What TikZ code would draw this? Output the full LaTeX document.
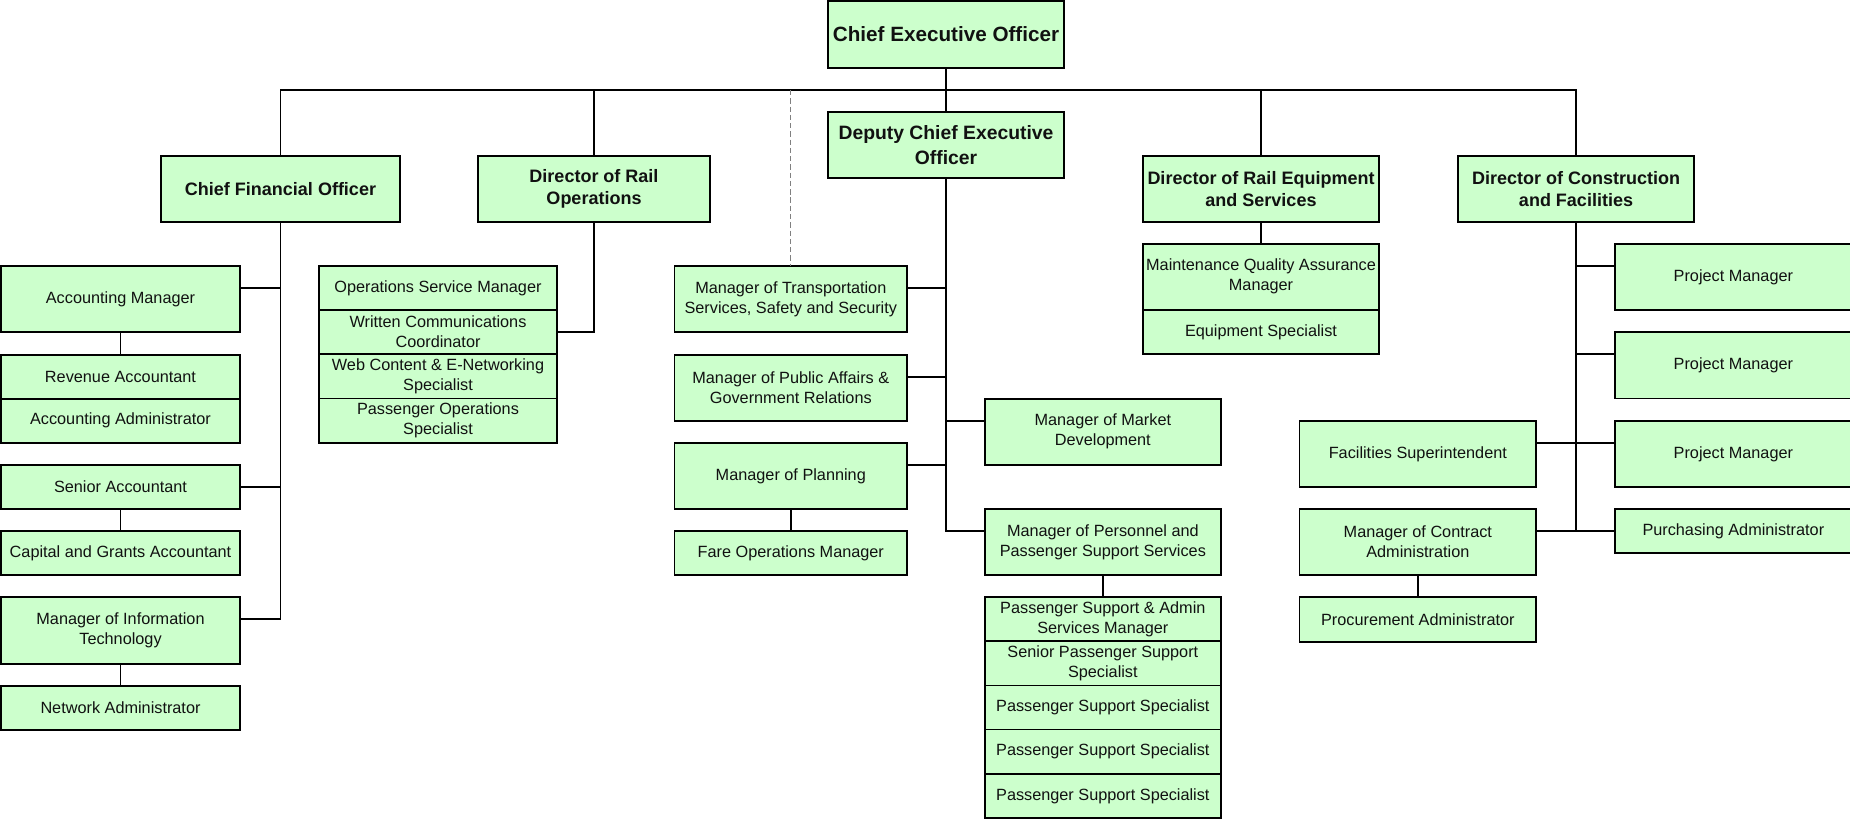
\documentclass[tikz,border=0pt]{standalone}
\usepackage{fontspec}
\setmainfont{Liberation Sans}
\usepackage{tikz}
\definecolor{boxgreen}{HTML}{CCFFCC}
\definecolor{txt}{HTML}{111111}

\begin{document}
\begin{tikzpicture}[x=0.75pt,y=-0.75pt,
	box/.style={draw,line width=1.3pt,fill=boxgreen,text=txt,inner sep=0pt,outer sep=0pt,align=center,font=\fontsize{12.2}{15}\selectfont},
	head/.style={box,font=\bfseries\fontsize{13.5}{16.5}\selectfont},
	wh/.style 2 args={minimum width=#1*0.75pt,minimum height=#2*0.75pt},
	link/.style={line width=1.3pt}]
\useasboundingbox (0,0) rectangle (1850,819);

%heads
\node[head,wh={236}{67},font=\bfseries\fontsize{15.5}{18}\selectfont] (ceo) at (946,34.5) {Chief Executive Officer};
\node[head,wh={236}{66},font=\bfseries\fontsize{14.5}{18.75}\selectfont] (dceo) at (946,145) {Deputy Chief Executive\\Officer};
\node[head,wh={239}{66}] (cfo) at (280.5,189) {Chief Financial Officer};
\node[head,wh={232}{66}] (dro) at (594,189) {Director of Rail\\Operations};
\node[head,wh={236.6}{66}] (dres) at (1261,189) {Director of Rail Equipment\\and Services};
\node[head,wh={236.6}{66}] (dcf) at (1576,189) {Director of Construction\\and Facilities};

%finance
\node[box,wh={239}{66.3}] (am) at (120.5,298.8) {Accounting Manager};
\node[box,wh={239}{44}] (ra) at (120.5,376.7) {Revenue Accountant};
\node[box,wh={239}{44}] (aa) at (120.5,420.7) {Accounting Administrator};
\node[box,wh={239}{43.7}] (sa) at (120.5,486.85) {Senior Accountant};
\node[box,wh={239}{43.7}] (cg) at (120.5,552.85) {Capital and Grants Accountant};
\node[box,wh={239}{67}] (mit) at (120.5,630.5) {Manager of Information\\Technology};
\node[box,wh={239}{44.3}] (na) at (120.5,707.85) {Network Administrator};

%rail operations
\node[box,wh={238}{44.25}] (osm) at (438,287.8) {Operations Service Manager};
\node[box,wh={238}{44.25}] (wcc) at (438,332.05) {Written Communications\\Coordinator};
\node[box,wh={238}{44.25}] (wce) at (438,376.3) {Web Content \& E-Networking\\Specialist};
\node[box,wh={238}{44.25}] (poss) at (438,420.55) {Passenger Operations\\Specialist};

%deputy
\node[box,wh={232.5}{66.3}] (mts) at (790.8,298.85) {Manager of Transportation\\Services, Safety and Security};
\node[box,wh={232.5}{66}] (mpa) at (790.8,387.7) {Manager of Public Affairs \&\\Government Relations};
\node[box,wh={232.5}{66.3}] (mp) at (790.8,475.85) {Manager of Planning};
\node[box,wh={232.5}{43.7}] (fom) at (790.8,552.85) {Fare Operations Manager};
\node[box,wh={236.3}{66}] (mmd) at (1102.85,431.7) {Manager of Market\\Development};
\node[box,wh={236.3}{65.7}] (mps) at (1102.85,541.85) {Manager of Personnel and\\Passenger Support Services};
\node[box,wh={236.3}{44.2}] (psa) at (1102.85,619.1) {Passenger Support \& Admin\\Services Manager};
\node[box,wh={236.3}{44.2}] (spss) at (1102.85,663.3) {Senior Passenger Support\\Specialist};
\foreach \i in {1,2,3}{
	\pgfmathsetmacro{\pos}{707.5+44.2*(\i-1)}
	\node[box,wh={236.3}{44.2}] (pss\i) at (1102.85,\pos) {Passenger Support Specialist};}

%rail equipment
\node[box,wh={236.6}{66}] (mqa) at (1261,276.7) {Maintenance Quality Assurance\\Manager};
\node[box,wh={236.6}{44.6}] (eqs) at (1261,332) {Equipment Specialist};

%construction
\foreach \i in {1,2,3}{
	\pgfmathsetmacro{\pos}{276.85+88.5*(\i-1)}
	\node[box,wh={237.3}{66.2}] (pm\i) at (1733.35,\pos) {Project Manager};}
\node[box,wh={237.3}{43.7}] (pa) at (1733.35,530.85) {Purchasing Administrator};
\node[box,wh={236.7}{66.3}] (fs) at (1417.85,453.85) {Facilities Superintendent};
\node[box,wh={236.7}{65.7}] (mca) at (1417.85,541.85) {Manager of Contract\\Administration};
\node[box,wh={236.7}{44.7}] (pra) at (1417.85,619.35) {Procurement Administrator};

%edges
\coordinate (bus) at (946,90);
\draw[link] (cfo.north) |- (bus) -| (dcf.north);
\draw[link] (ceo) -- (dceo);
\foreach \n in {dro,dres}
	\draw[link] (\n.north) -- (\n.north |- bus);
\draw[gray,line width=0.9pt,dash pattern=on 4pt off 2.2pt] (mts.north |- bus) -- (mts.north);

%branches
\foreach \n in {am,sa,mit}
	\draw[link] (cfo.south) |- ([yshift=-16.5pt]\n.north east);
\draw[link] (dro.south) |- (wcc.east);
\foreach \n in {mts,mpa,mp}
	\draw[link] (dceo.south) |- ([yshift=-16.5pt]\n.north east);
\foreach \n in {mmd,mps}
	\draw[link] (dceo.south) |- ([yshift=-16.5pt]\n.north west);
\foreach \n in {pm1,pm2,pm3,pa}
	\draw[link] (dcf.south) |- ([yshift=-16.5pt]\n.north west);
\foreach \n in {fs,mca}
	\draw[link] (dcf.south) |- ([yshift=-16.5pt]\n.north east);

%vertical
\draw[link] (dres) -- (mqa);
\draw[link] (am) -- (ra);
\draw[link] (sa) -- (cg);
\draw[link] (mit) -- (na);
\draw[link] (mp) -- (fom);
\draw[link] (mps) -- (psa);
\draw[link] (mca) -- (pra);
\end{tikzpicture}
\end{document}
